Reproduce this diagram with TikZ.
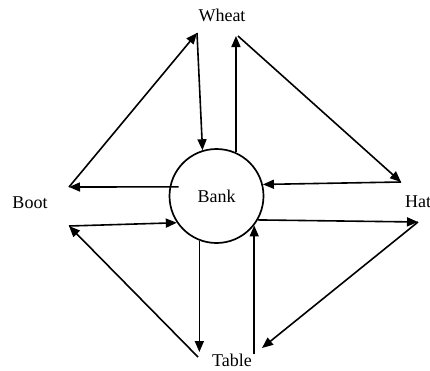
\documentclass[tikz,border=0pt]{standalone}
\usepackage{fontspec}
\setmainfont{Liberation Serif}
\usepackage{tikz}
\usetikzlibrary{arrows.meta, positioning, calc}

\tikzset{
  flow/.style={-{Triangle[length=11pt, width=9pt]}, line width=1.6pt},
  lbl/.style={font=\fontsize{18}{20}\selectfont, inner sep=0pt}
}

\begin{document}
\begin{tikzpicture}[x=1pt, y=-1pt]
      \useasboundingbox (0,0) rectangle (430,370);
      \node[circle, draw, line width=1.7pt, minimum size=94pt, lbl] (bank) at (216.5,196) {Bank};
      \node[lbl] (wheat) at (222,15) {Wheat};
      \node[lbl] (boot) at (30,203) {Boot};
      \node[lbl] (hat) at (418,202) {Hat};
      \node[lbl] (table) at (232,360) {Table};
      % corner points
      \coordinate (w1) at (197,33);
      \coordinate (w2) at (238,36);
      \coordinate (h1) at (401,182);
      \coordinate (h2) at (418,222);
      \coordinate (t2) at (262,348);
      \coordinate (t1) at (201,352);
      \coordinate (b2) at (69,226);
      \coordinate (b1) at (69,187);
      \draw[flow] (b1) -- (w1);
      \draw[flow] (w1) -- (bank.107);
      \draw[flow] (bank.66) -- (bank.66 |- w2);
      \draw[flow] (w2) -- (h1);
      \draw[flow] (h1) -- (bank.14);
      \draw[flow] (bank.330) -- (h2);
      \draw[flow] (h2) -- (t2);
      \draw[flow] ($(bank.322 |- t2)+(0,6)$) -- (bank.322);
      \draw[flow] (bank.249) -- (bank.249 |- t1);
      \draw[flow] ($(t1)+(-3,5)$) -- (b2);
      \draw[flow] (b2) -- (bank.214);
      \draw[flow] ([xshift=9pt]bank.169) -- (b1);
    \end{tikzpicture}
\end{document}
